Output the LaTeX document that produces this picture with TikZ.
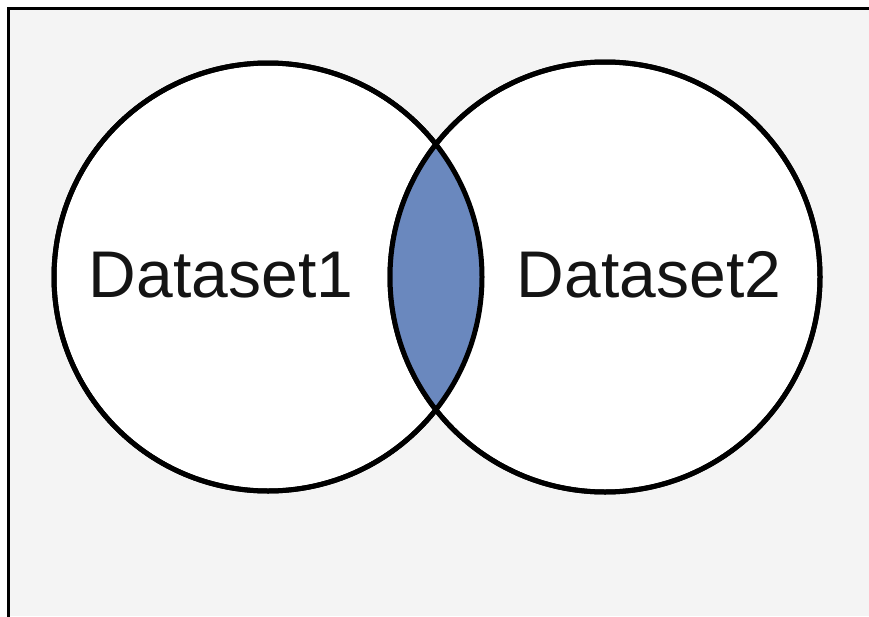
\documentclass[tikz,border=0pt]{standalone}
\usepackage{fontspec}
\setmainfont{Liberation Sans}
\definecolor{bggray}{RGB}{244,244,244}
\definecolor{lensblue}{RGB}{106,136,190}
\tikzset{
  setcircle/.style={circle, draw=black, line width=5pt, fill=white, inner sep=0pt},
  setlabel/.style={anchor=base, inner sep=0pt, font=\fontsize{66}{79}\selectfont, text=black!92}
}
\begin{document}
\begin{tikzpicture}[x=1pt,y=-1pt]
\useasboundingbox (0,0) rectangle (869,616);
\fill[white] (0,0) rectangle (869,616);
\fill[bggray] (8,8) rectangle (869,616);
\draw[line width=3pt, line cap=rect] (8,616) -- (8,8) -- (869,8);
% circles (white fill)
\node[setcircle, minimum size=428pt] (c1) at (268,277) {};
\node[setcircle, minimum size=430pt] (c2) at (605,277) {};
% intersection lens
\begin{scope}
  \clip (268,277) circle (214);
  \fill[lensblue] (605,277) circle (215);
\end{scope}
% redraw outlines over the fill
\draw[line width=5pt] (c1.center) circle (214);
\draw[line width=5pt] (c2.center) circle (215);
\node[setlabel] (t1) at (221,297) {Dataset1};
\node[setlabel] (t2) at (649,297) {Dataset2};
\end{tikzpicture}
\end{document}
